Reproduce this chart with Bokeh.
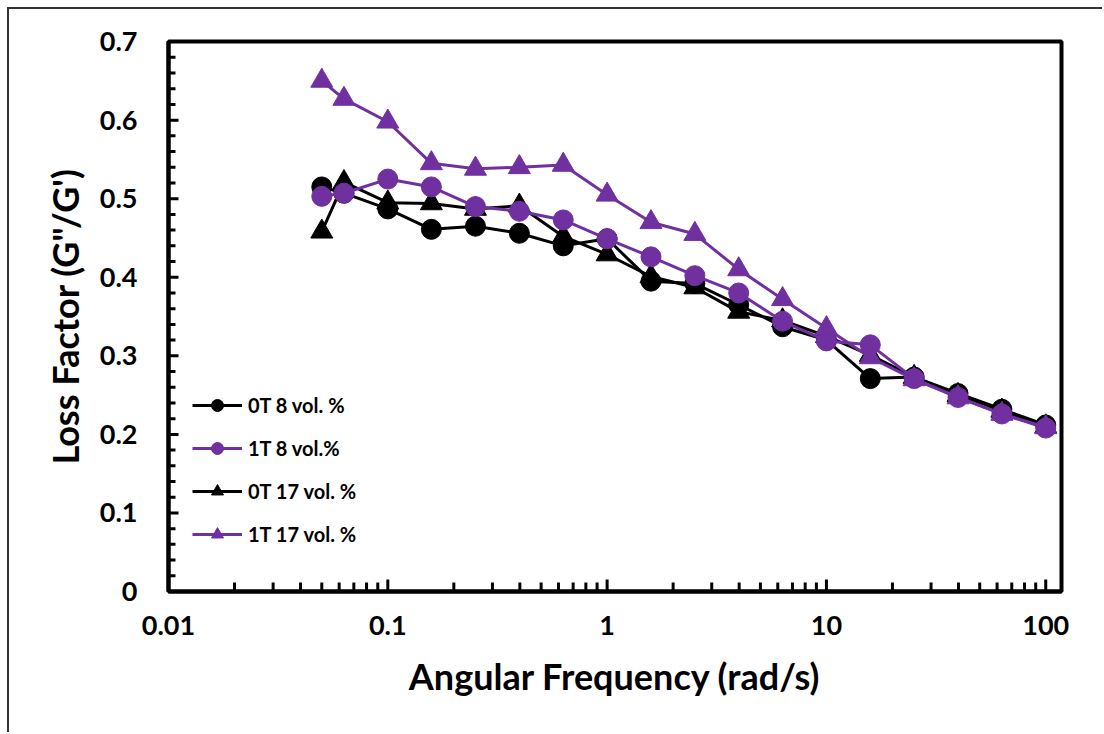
import math
from bokeh.plotting import figure
from bokeh.models import (Range1d, FixedTicker, CustomJSTickFormatter,
                          Legend, LegendItem)
from bokeh.embed import file_html
from bokeh.resources import INLINE

# ---- data ----
freq = [0.05, 0.0631, 0.1, 0.158, 0.251, 0.398, 0.631, 1.0, 1.585, 2.512,
        3.981, 6.31, 10.0, 15.85, 25.12, 39.81, 63.1, 100.0]
ot_8 = [0.515, 0.507, 0.487, 0.461, 0.465, 0.456, 0.440, 0.449, 0.395, 0.392,
        0.365, 0.337, 0.320, 0.271, 0.273, 0.252, 0.232, 0.212]
t1_8 = [0.503, 0.507, 0.525, 0.515, 0.490, 0.484, 0.473, 0.449, 0.426, 0.402,
        0.380, 0.344, 0.319, 0.314, 0.271, 0.247, 0.226, 0.208]
ot_17 = [0.458, 0.521, 0.495, 0.494, 0.487, 0.491, 0.452, 0.429, 0.401, 0.387,
         0.356, 0.345, 0.325, 0.301, 0.273, 0.250, 0.230, 0.210]
t1_17 = [0.650, 0.627, 0.598, 0.545, 0.538, 0.540, 0.543, 0.505, 0.470, 0.455,
         0.410, 0.372, 0.335, 0.298, 0.270, 0.247, 0.226, 0.209]

series_names = ["0T 8 vol. %", "1T 8 vol.%", "0T 17 vol. %", "1T 17 vol. %"]
x_tick_values = [0.01, 0.1, 1, 10, 100]
x_tick_labels = ["0.01", "0.1", "1", "10", "100"]
y_tick_values = [0.0, 0.1, 0.2, 0.3, 0.4, 0.5, 0.6, 0.7]
y_tick_labels = ["0", "0.1", "0.2", "0.3", "0.4", "0.5", "0.6", "0.7"]

x_title = "Angular Frequency (rad/s)"
y_title = "Loss Factor (G\"/G')"

BLACK = "#000000"
PURPLE = "#7030A0"
FONT = "Lato"

X_MIN, X_MAX = 0.01, 118
Y_MIN, Y_MAX = 0.0, 0.7

W, H = 1095, 725
ML, MR, MT, MB = 159, 43, 32, 143
frame_w = W - ML - MR
frame_h = H - MT - MB

p = figure(width=W, height=H, x_axis_type="log",
           x_range=Range1d(X_MIN, X_MAX), y_range=Range1d(Y_MIN, Y_MAX + 1e-4),
           output_backend="svg", toolbar_location=None,
           min_border_left=ML, min_border_right=MR,
           min_border_top=MT, min_border_bottom=MB)
p.margin = (7, 0, 0, 7)
p.styles = {"border-left": "2px solid #333333", "border-top": "2px solid #333333"}

p.grid.visible = False
p.outline_line_color = "black"
p.outline_line_width = 4
p.background_fill_color = None
p.border_fill_color = "white"

x_minor = [d * k for d in x_tick_values[:-1] for k in range(2, 10)]
y_minor = []
for a, b in zip(y_tick_values[:-1], y_tick_values[1:]):
    for k in range(1, 5):
        y_minor.append(a + (b - a) * k / 5)

p.xaxis.ticker = FixedTicker(ticks=x_tick_values, minor_ticks=x_minor)
p.xaxis.formatter = CustomJSTickFormatter(
    args=dict(vals=x_tick_values, labs=x_tick_labels),
    code="""
    for (let i = 0; i < vals.length; i++) {
        if (Math.abs(Math.log10(tick) - Math.log10(vals[i])) < 1e-6) return labs[i];
    }
    return '';
    """)
p.yaxis.ticker = FixedTicker(ticks=y_tick_values, minor_ticks=y_minor)
p.yaxis.formatter = CustomJSTickFormatter(
    args=dict(vals=y_tick_values, labs=y_tick_labels),
    code="""
    for (let i = 0; i < vals.length; i++) {
        if (Math.abs(tick - vals[i]) < 1e-6) return labs[i];
    }
    return '';
    """)

for ax in (p.xaxis[0], p.yaxis[0]):
    ax.axis_line_width = 4
    ax.axis_line_color = "black"
    ax.major_tick_in = 0
    ax.major_tick_out = 0
    ax.minor_tick_in = 0
    ax.minor_tick_out = 0
    ax.major_label_text_font = FONT
    ax.major_label_text_font_style = "bold"
    ax.major_label_text_font_size = "27px"
    ax.major_label_text_color = "black"
    ax.axis_label_text_font = FONT
    ax.axis_label_text_font_style = "bold"
    ax.axis_label_text_color = "black"

p.xaxis.axis_label = x_title
p.yaxis.axis_label = y_title
p.xaxis.axis_label_text_font_size = "36px"
p.yaxis.axis_label_text_font_size = "36px"
p.xaxis.major_label_standoff = 24
p.yaxis.major_label_standoff = 31
p.xaxis.axis_label_standoff = 16
p.yaxis.axis_label_standoff = 10

# inward tick marks as short segments (pixel lengths converted to data units)
X_MAJ, X_MIN_LEN = 12, 9
Y_MAJ, Y_MIN_LEN = 10, 7
decades = math.log10(X_MAX) - math.log10(X_MIN)
dy_maj = (Y_MAX - Y_MIN) * X_MAJ / frame_h
dy_min = (Y_MAX - Y_MIN) * X_MIN_LEN / frame_h
fx_maj = 10 ** (decades * Y_MAJ / frame_w)
fx_min = 10 ** (decades * Y_MIN_LEN / frame_w)

p.segment(x0=x_tick_values, y0=[Y_MIN] * len(x_tick_values),
          x1=x_tick_values, y1=[Y_MIN + dy_maj] * len(x_tick_values),
          line_color="black", line_width=3)
p.segment(x0=x_minor, y0=[Y_MIN] * len(x_minor),
          x1=x_minor, y1=[Y_MIN + dy_min] * len(x_minor),
          line_color="black", line_width=3)
p.segment(x0=[X_MIN] * len(y_tick_values), y0=y_tick_values,
          x1=[X_MIN * fx_maj] * len(y_tick_values), y1=y_tick_values,
          line_color="black", line_width=3)
p.segment(x0=[X_MIN] * len(y_minor), y0=y_minor,
          x1=[X_MIN * fx_min] * len(y_minor), y1=y_minor,
          line_color="black", line_width=3)

specs = [(ot_8, BLACK, "circle"), (ot_17, BLACK, "triangle"),
         (t1_8, PURPLE, "circle"), (t1_17, PURPLE, "triangle")]
rmap = {}
for ys, col, mk in specs:
    l = p.line(freq, ys, line_color=col, line_width=3)
    s = p.scatter(freq, ys, marker=mk, size=20 if mk == "circle" else 22,
                  fill_color=col, line_color=col)
    rmap[id(ys)] = [l, s]

items = [LegendItem(label=series_names[0], renderers=rmap[id(ot_8)]),
         LegendItem(label=series_names[1], renderers=rmap[id(t1_8)]),
         LegendItem(label=series_names[2], renderers=rmap[id(ot_17)]),
         LegendItem(label=series_names[3], renderers=rmap[id(t1_17)])]
legend = Legend(items=items, location=(24, 42), padding=0, margin=0,
                border_line_color=None, background_fill_alpha=0,
                glyph_width=50, glyph_height=30, label_height=30,
                spacing=13, label_standoff=6,
                label_text_font=FONT, label_text_font_style="bold",
                label_text_font_size="20px", label_text_color="black")
p.add_layout(legend, "center")

open("out.html", "w").write(file_html(p, INLINE))
